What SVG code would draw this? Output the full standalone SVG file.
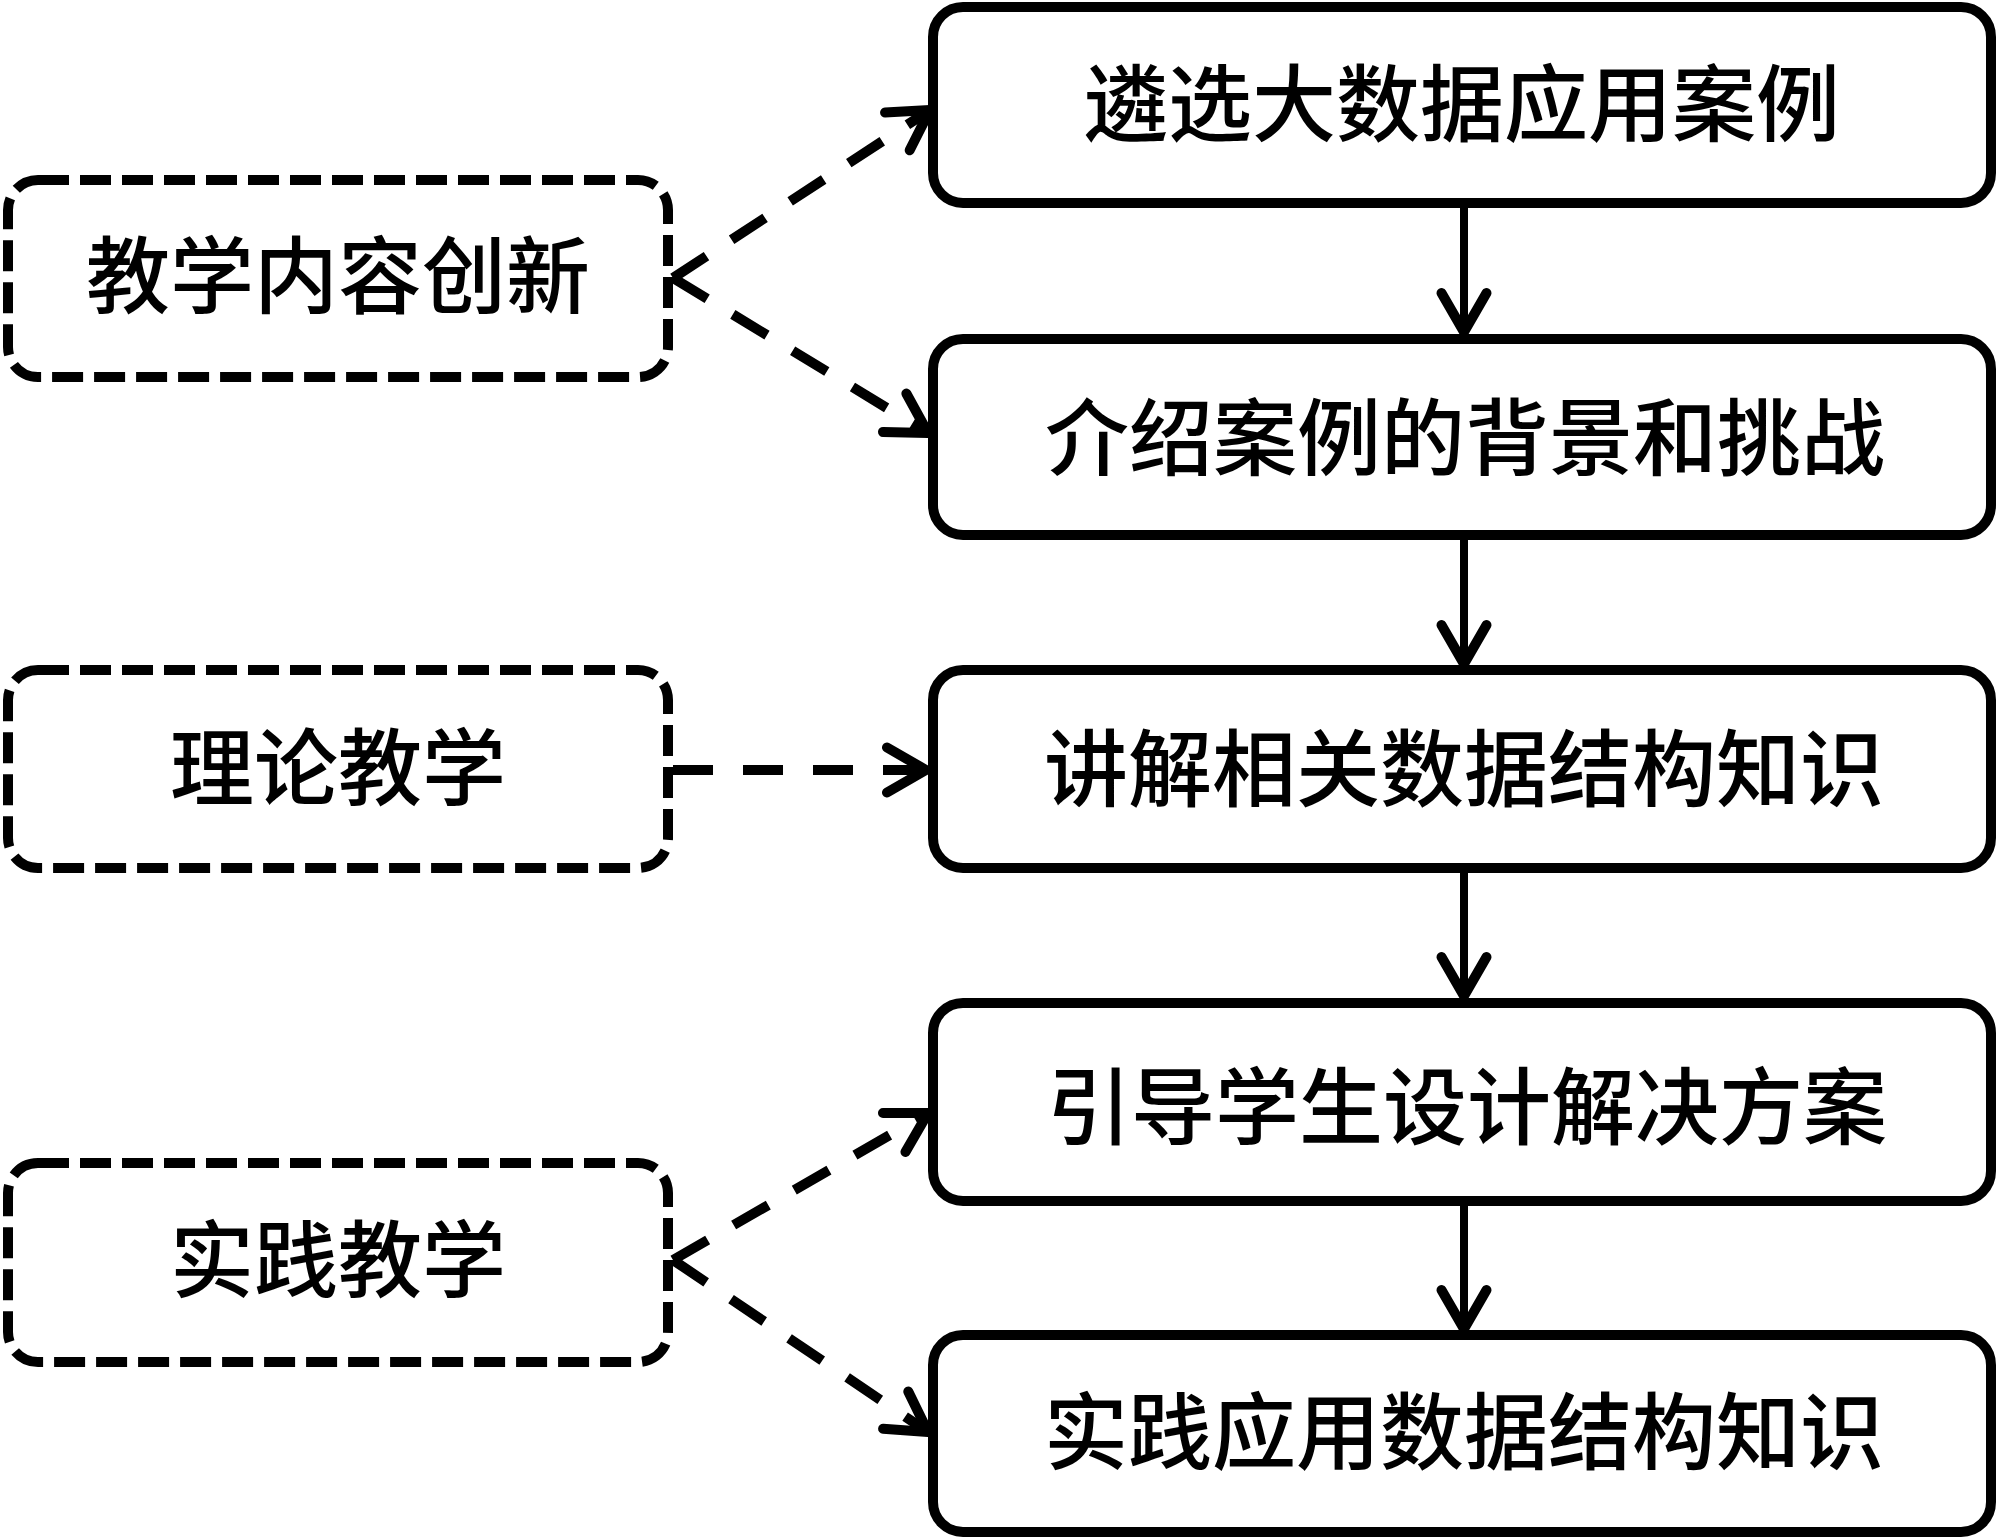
<svg xmlns="http://www.w3.org/2000/svg" width="2000" height="1540" viewBox="0 0 2000 1540">
<style>
.bg{fill:#fff}
.solid{fill:#fff;stroke:#000;stroke-width:10}
.dash{fill:#fff;stroke:#000;stroke-width:10;stroke-dasharray:31 11}
.lbl{font-family:"Noto Sans CJK SC","Noto Sans CJK JP",sans-serif;font-size:84px;font-weight:500;fill:#000;text-anchor:middle}
.flow{fill:none;stroke:#000;stroke-width:8;marker-end:url(#ah)}
.dl{fill:none;stroke:#000;stroke-width:10;stroke-dasharray:40 30;marker-end:url(#ah)}
</style>
<defs>
<marker id="ah" markerUnits="userSpaceOnUse" orient="auto" overflow="visible" markerWidth="1" markerHeight="1" refX="0" refY="0">
<path d="M-39,-22.5 L0,0 L-39,22.5" fill="none" stroke="#000" stroke-width="10" stroke-linecap="round" stroke-linejoin="round" stroke-dasharray="none"/>
</marker>
</defs>
<rect class="bg" x="0" y="0" width="2000" height="1540"/>
<g id="connectors">
<line class="flow" x1="1464" y1="207" x2="1464" y2="332"/>
<line class="flow" x1="1464" y1="539" x2="1464" y2="664"/>
<line class="flow" x1="1464" y1="871" x2="1464" y2="996"/>
<line class="flow" x1="1464" y1="1204" x2="1464" y2="1329"/>
<line class="dl" x1="673" y1="278" x2="930" y2="110"/>
<line class="dl" x1="673" y1="278" x2="928" y2="433"/>
<line class="dl" x1="673" y1="770" x2="926" y2="770"/>
<line class="dl" x1="673" y1="1260" x2="928" y2="1113"/>
<line class="dl" x1="673" y1="1260" x2="928" y2="1432"/>
</g>
<g id="n1"><rect class="solid" x="933" y="7" width="1058" height="196" rx="30"/><text class="lbl" x="1462" y="135">遴选大数据应用案例</text></g>
<g id="n2"><rect class="solid" x="933" y="339" width="1058" height="196" rx="30"/><text class="lbl" x="1465" y="469">介绍案例的背景和挑战</text></g>
<g id="n3"><rect class="solid" x="933" y="670" width="1058" height="198" rx="30"/><text class="lbl" x="1464" y="800">讲解相关数据结构知识</text></g>
<g id="n4"><rect class="solid" x="933" y="1003" width="1058" height="198" rx="30"/><text class="lbl" x="1467" y="1138">引导学生设计解决方案</text></g>
<g id="n5"><rect class="solid" x="933" y="1335" width="1058" height="197" rx="30"/><text class="lbl" x="1464" y="1463">实践应用数据结构知识</text></g>
<g id="a"><rect class="dash" x="8" y="180" width="660" height="197" rx="30"/><text class="lbl" x="338" y="307">教学内容创新</text></g>
<g id="b"><rect class="dash" x="8" y="670" width="660" height="198" rx="30"/><text class="lbl" x="338" y="799">理论教学</text></g>
<g id="c"><rect class="dash" x="8" y="1163" width="660" height="199" rx="30"/><text class="lbl" x="338" y="1291">实践教学</text></g>
</svg>
